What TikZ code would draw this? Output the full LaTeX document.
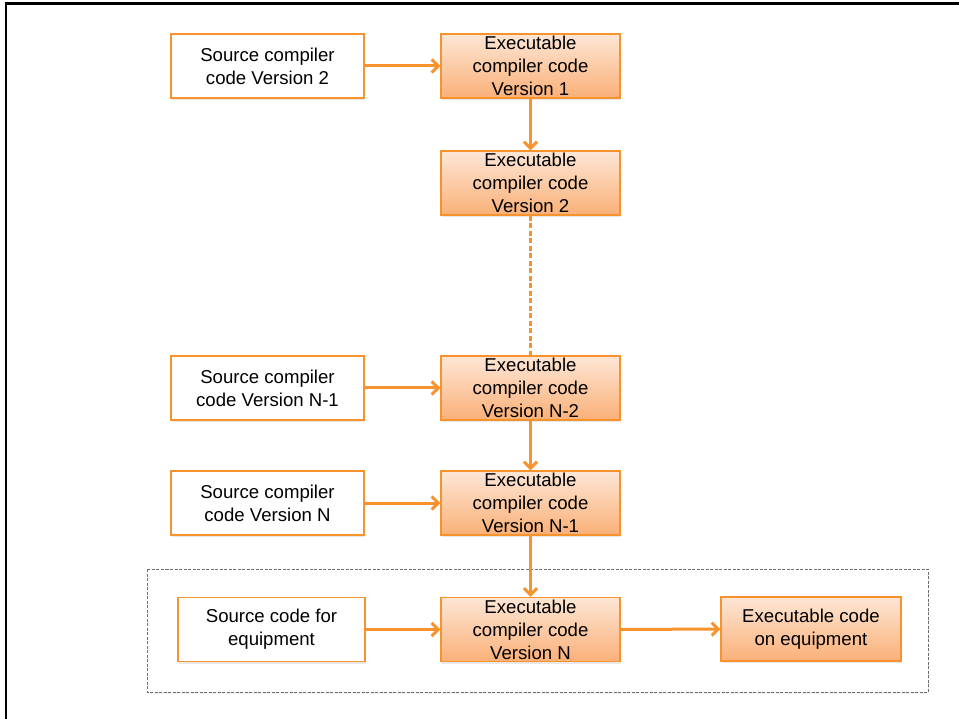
\documentclass[tikz,border=0pt]{standalone}
\usepackage{fontspec}
\setmainfont{Liberation Sans}
\usetikzlibrary{arrows.meta,shadows}
\definecolor{boxorange}{RGB}{247,146,45}
\definecolor{shadetop}{RGB}{253,230,213}
\definecolor{shadebot}{RGB}{250,176,120}
\definecolor{groupgray}{RGB}{110,110,110}
\tikzset{
  srcbox/.style={draw=boxorange,line width=1.4pt,fill=white,
    minimum width=193pt,minimum height=64pt,inner sep=0pt,align=center,
    font=\fontsize{18.6}{23}\selectfont,
    drop shadow={opacity=0.18,shadow xshift=1pt,shadow yshift=-2pt}},
  exebox/.style={srcbox,minimum width=179pt,top color=shadetop,bottom color=shadebot},
  flow/.style={draw=boxorange,line width=3pt,-{Straight Barb[length=6.5pt,width=13pt]}},
}
\begin{document}
\begin{tikzpicture}[x=1pt,y=-1pt]
\useasboundingbox (0,0) rectangle (959,719);
\coordinate (S2) at (267.5,66);
\coordinate (E1) at (530.5,66);
\coordinate (E2) at (530.5,183);
\coordinate (SN1) at (267.5,388);
\coordinate (EN2) at (530.5,388);
\coordinate (SN) at (267.5,503);
\coordinate (EN1) at (530.5,503);
\coordinate (SQ) at (271.5,629.5);
\coordinate (EN) at (530.5,629.5);
\coordinate (EQ) at (811,629);
% frame
\draw[line width=2.5pt,line cap=rect] (959,3.5)--(6.2,3.5)--(6.2,719);
% group
\draw[groupgray,line width=0.7pt,dash pattern=on 3pt off 1.5pt,
  drop shadow={opacity=0.1,shadow xshift=1pt,shadow yshift=-2pt},fill=white]
  (147,569) rectangle (928,692);
\node[srcbox] (src2) at (S2) {Source compiler\\code Version 2};
\node[exebox] (exe1) at (E1) {Executable\\compiler code\\Version 1};
\node[exebox] (exe2) at (E2) {Executable\\compiler code\\Version 2};
\node[srcbox] (srcn1) at (SN1) {Source compiler\\code Version N-1};
\node[exebox] (exen2) at (EN2) {Executable\\compiler code\\Version N-2};
\node[srcbox] (srcn) at (SN) {Source compiler\\code Version N};
\node[exebox] (exen1) at (EN1) {Executable\\compiler code\\Version N-1};
\node[srcbox,minimum width=187pt] (srceq) at (SQ) {Source code for\\equipment};
\node[exebox] (exen) at (EN) {Executable\\compiler code\\Version N};
\node[exebox,minimum width=180pt] (exeeq) at (EQ) {Executable code\\on equipment};
\draw[flow] (src2)--(exe1);
\draw[flow] (exe1)--(exe2);
\draw[boxorange,line width=3pt,dash pattern=on 5pt off 2.5pt] (exe2)--(exen2);
\draw[flow] (srcn1)--(exen2);
\draw[flow] (exen2)--(exen1);
\draw[flow] (srcn)--(exen1);
\draw[flow] (exen1)--(exen);
\draw[flow] (srceq)--(exen);
\draw[flow] (exen)--(exeeq);
\end{tikzpicture}
\end{document}
